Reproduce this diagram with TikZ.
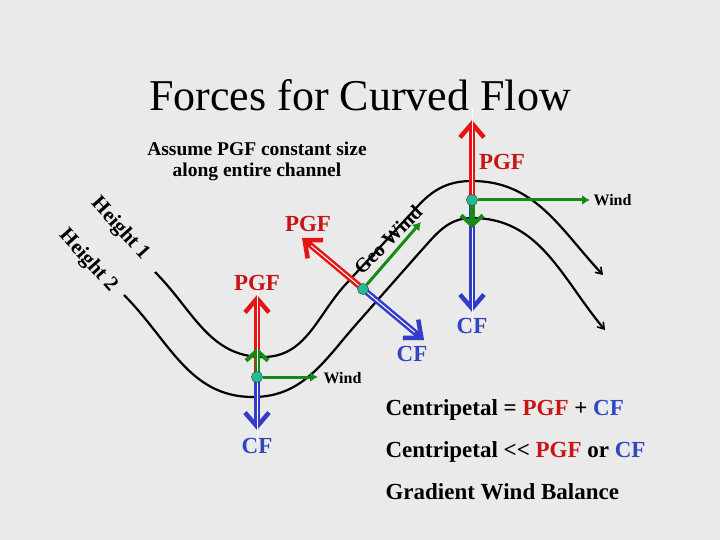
\documentclass[tikz,border=0pt]{standalone}
\usepackage{fontspec}
\setmainfont{Liberation Serif}
\usetikzlibrary{arrows.meta, calc}
\definecolor{fondo}{RGB}{234, 234, 234}
\definecolor{rojo}{RGB}{230, 20, 20}
\definecolor{azul}{RGB}{50, 60, 200}
\definecolor{verde}{RGB}{20, 140, 20}
\definecolor{punto}{RGB}{30, 190, 150}
\definecolor{txtrojo}{RGB}{200, 20, 20}
\definecolor{txtazul}{RGB}{50, 70, 190}
\tikzset{
    iso/.style={draw=black, line width=2.2pt, -{Straight Barb[length=6pt,width=8pt,line width=1.6pt]}},
    fat/.style={line width=6pt, -{Straight Barb[length=14pt,width=24pt,line width=4.5pt]}},
    core/.style={draw=white, line width=1pt},
    thin/.style={draw=verde, line width=3pt, -{Latex[length=8pt,width=10pt]}},
    short/.style={draw=verde, line width=5pt, -{Straight Barb[length=10pt,width=22pt,line width=4pt]}},
    dot/.style={circle, fill=punto, draw=black!70, inner sep=0pt, minimum size=11pt},
    lbl/.style={font=\fontsize{23}{25}\selectfont\bfseries},
    eq/.style={font=\fontsize{23}{25}\selectfont\bfseries, anchor=west},
    sm/.style={font=\fontsize{16}{18}\selectfont\bfseries},
    hgt/.style={font=\fontsize{21}{22}\selectfont\bfseries, rotate=-48, inner sep=0pt},
}
\begin{document}
\begin{tikzpicture}[x=1pt, y=-1pt]
    \fill[fondo] (0,0) rectangle (720,540);
    \node (title) at (360,95) {\fontsize{44}{46}\selectfont Forces for Curved Flow};
    \node[font=\fontsize{19.5}{21}\selectfont\bfseries, align=center] (assume) at (257,161) {Assume PGF constant size\\along entire channel};

    % height contours
    \coordinate (a0) at (155,272);
    \coordinate (a1) at (263,357);
    \coordinate (am) at (345,285);
    \coordinate (an) at (417,207);
    \coordinate (a2) at (472,181);
    \coordinate (a3) at (603,275);
    \coordinate (b0) at (124,295);
    \coordinate (b1) at (253,397);
    \coordinate (bm) at (360,320);
    \coordinate (bn) at (420,252);
    \coordinate (b2) at (472,218);
    \coordinate (b3) at (605,330);
    \draw[iso] (a0) to[out=-45,in=180] (a1) to[out=0,in=228] (am) -- (an) to[out=48,in=180] (a2) to[out=0,in=133] (a3);
    \draw[iso] (b0) to[out=-45,in=180] (b1) to[out=0,in=228] (bm) -- (bn) to[out=48,in=180] (b2) to[out=0,in=130] (b3);
    \node[hgt] (h1) at (120,229) {Height 1};
    \node[hgt] (h2) at (88,261) {Height 2};

    % parcels
    \node[dot] (p1) at (257,377) {};
    \node[dot] (p2) at (363,289) {};
    \node[dot] (p3) at (472,200) {};
    \coordinate (p1pgf) at (257,295);
    \coordinate (p1cf) at (257,430);
    \coordinate (p1up) at (257,348);
    \coordinate (p1wind) at (318,377);
    \coordinate (p2pgf) at (302,238);
    \coordinate (p2cf) at (424,340);
    \coordinate (p2wind) at (421,222);
    \coordinate (p3pgf) at (472,120);
    \coordinate (p3cf) at (472,312);
    \coordinate (p3dn) at (472,228);
    \coordinate (p3wind) at (590,200);

    \draw[fat, rojo] (p1.center) -- (p1pgf);
    \draw[core] (p1.center) -- ([yshift=12]p1pgf);
    \draw[fat, azul] (p1.center) -- (p1cf);
    \draw[core] (p1.center) -- ([yshift=-12]p1cf);
    \draw[short] (p1.center) -- (p1up);
    \draw[core] (p1.center) -- ([yshift=6]p1up);
    \draw[thin] (p1) -- (p1wind);

    \draw[fat, rojo] (p2.center) -- (p2pgf);
    \draw[core] (p2.center) -- ($(p2pgf)!12pt!(p2.center)$);
    \draw[fat, azul] (p2.center) -- (p2cf);
    \draw[core] (p2.center) -- ($(p2cf)!12pt!(p2.center)$);
    \draw[thin] (p2) -- (p2wind);

    \draw[fat, rojo] (p3.center) -- (p3pgf);
    \draw[core] (p3.center) -- ([yshift=12]p3pgf);
    \draw[fat, azul] (p3.center) -- (p3cf);
    \draw[core] (p3.center) -- ([yshift=-12]p3cf);
    \draw[short] (p3.center) -- (p3dn);
    \draw[thin] (p3) -- (p3wind);
    \node[dot] at (p1) {};
    \node[dot] at (p2) {};
    \node[dot] at (p3) {};

    % labels
    \node[lbl, txtrojo] (l1pgf) at (257,283) {PGF};
    \node[lbl, txtrojo] (l2pgf) at (308,224) {PGF};
    \node[lbl, txtrojo] (l3pgf) at (502,162) {PGF};
    \node[lbl, txtazul] (l1cf) at (257,446) {CF};
    \node[lbl, txtazul] (l2cf) at (412,354) {CF};
    \node[lbl, txtazul] (l3cf) at (472,326) {CF};
    \node[sm, anchor=west] (w1) at (320,378) {Wind};
    \node[sm, anchor=west] (w3) at (590,200) {Wind};
    \node[font=\fontsize{20}{22}\selectfont\bfseries, rotate=45, inner sep=0pt] (geo) at (388,240) {Geo Wind};

    \node[eq] (eq1) at (382,410) {Centripetal = \textcolor{txtrojo}{PGF} + \textcolor{txtazul}{CF}};
    \node[eq] (eq2) at (382,452) {Centripetal \mbox{<}\mbox{<} \textcolor{txtrojo}{PGF} or \textcolor{txtazul}{CF}};
    \node[eq] (eq3) at (382,492) {Gradient Wind Balance};
\end{tikzpicture}
\end{document}
